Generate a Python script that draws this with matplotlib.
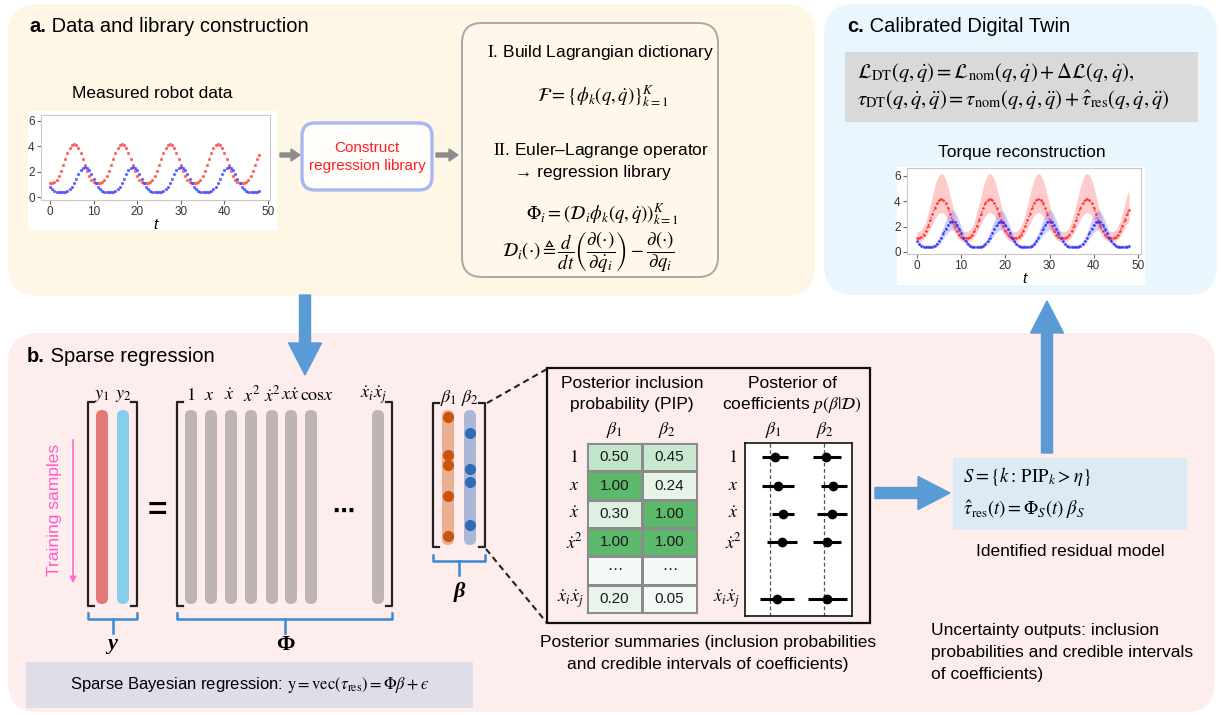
import numpy as np
import matplotlib
matplotlib.use("Agg")
import matplotlib.pyplot as plt
from matplotlib.patches import FancyBboxPatch, Rectangle, FancyArrow
from matplotlib.colors import LinearSegmentedColormap, PowerNorm

plt.rcParams['font.family'] = ['Liberation Sans', 'DejaVu Sans']
plt.rcParams['mathtext.fontset'] = 'stix'

# ---------------- data ----------------
t = np.arange(97) * 0.5

tau_joint1 = [
    1.10, 1.11, 1.19, 1.37, 1.65, 2.05, 2.52, 3.01, 3.48, 3.86, 4.11, 4.20, 4.11, 3.86, 3.48, 3.01, 2.52, 2.05, 1.65, 1.37, 1.19, 1.11,
    1.10, 1.11, 1.19, 1.37, 1.65, 2.05, 2.52, 3.01, 3.48, 3.86, 4.11, 4.20, 4.11, 3.86, 3.48, 3.01, 2.52, 2.05, 1.65, 1.37, 1.19, 1.11,
    1.10, 1.11, 1.19, 1.37, 1.65, 2.05, 2.52, 3.01, 3.48, 3.86, 4.11, 4.20, 4.11, 3.86, 3.48, 3.01, 2.52, 2.05, 1.65, 1.37, 1.19, 1.11,
    1.10, 1.11, 1.19, 1.37, 1.65, 2.05, 2.52, 3.01, 3.48, 3.86, 4.11, 4.20, 4.11, 3.86, 3.48, 3.01, 2.52, 2.05, 1.65, 1.37, 1.19, 1.11,
    1.10, 1.11, 1.19, 1.37, 1.65, 2.05, 2.52, 3.01, 3.30,
]
tau_joint2 = [
    0.84, 0.62, 0.48, 0.42, 0.40, 0.40, 0.40, 0.42, 0.48, 0.62, 0.84, 1.13, 1.47, 1.82, 2.12, 2.33, 2.40, 2.33, 2.12, 1.82, 1.47, 1.13,
    0.84, 0.62, 0.48, 0.42, 0.40, 0.40, 0.40, 0.42, 0.48, 0.62, 0.84, 1.13, 1.47, 1.82, 2.12, 2.33, 2.40, 2.33, 2.12, 1.82, 1.47, 1.13,
    0.84, 0.62, 0.48, 0.42, 0.40, 0.40, 0.40, 0.42, 0.48, 0.62, 0.84, 1.13, 1.47, 1.82, 2.12, 2.33, 2.40, 2.33, 2.12, 1.82, 1.47, 1.13,
    0.84, 0.62, 0.48, 0.42, 0.40, 0.40, 0.40, 0.42, 0.48, 0.62, 0.84, 1.13, 1.47, 1.82, 2.12, 2.33, 2.40, 2.33, 2.12, 1.82, 1.47, 1.13,
    0.84, 0.62, 0.48, 0.42, 0.40, 0.40, 0.40, 0.42, 0.48,
]
# credible band as multiples of the reconstructed torque
band1_lo, band1_hi = 0.74, 1.48
band2_lo, band2_hi = 0.73, 1.38

library_terms = [r'$1$', r'$x$', r'$\dot{x}$', r'$x^2$', r'$\dot{x}^2$',
                 r'$x\dot{x}$', r'$\mathrm{cos}x$', r'$\dot{x}_i\dot{x}_j$']

# positions (fraction along the coefficient vector) of non-zero entries
beta1_support = [0.05, 0.33, 0.41, 0.64, 0.93]
beta2_support = [0.17, 0.44, 0.53, 0.85]

pip_terms = [r'$1$', r'$x$', r'$\dot{x}$', r'$\dot{x}^2$', '', r'$\dot{x}_i\dot{x}_j$']
pip_beta1 = [0.50, 1.00, 0.30, 1.00, np.nan, 0.20]
pip_beta2 = [0.45, 0.24, 1.00, 1.00, np.nan, 0.05]

coef1_mean = [0.09, 0.15, 0.24, 0.22, np.nan, 0.13]
coef1_lo = [-0.15, -0.15, 0.04, -0.06, np.nan, -0.19]
coef1_hi = [0.33, 0.44, 0.44, 0.50, np.nan, 0.44]
coef2_mean = [0.04, 0.17, 0.15, 0.06, np.nan, 0.06]
coef2_lo = [-0.20, -0.06, -0.13, -0.20, np.nan, -0.30]
coef2_hi = [0.31, 0.43, 0.43, 0.31, np.nan, 0.43]

# ---------------- canvas ----------------
W, H = 1221, 715
fig = plt.figure(figsize=(W / 100, H / 100), dpi=100)
fig.patch.set_facecolor('white')
bg = fig.add_axes([0, 0, 1, 1])
bg.set_xlim(0, W)
bg.set_ylim(H, 0)
bg.axis('off')


def px_axes(x0, y0, x1, y1):
    return fig.add_axes([x0 / W, 1 - y1 / H, (x1 - x0) / W, (y1 - y0) / H])


def rbox(x0, y0, x1, y1, r, fc, ec='none', lw=0, z=1):
    bg.add_patch(FancyBboxPatch((x0, y0), x1 - x0, y1 - y0,
                                boxstyle=f"round,pad=0,rounding_size={r}",
                                fc=fc, ec=ec, lw=lw, zorder=z))


def vbar(xc, y0, y1, w, color):
    bg.add_patch(FancyBboxPatch((xc - w / 2, y0), w, y1 - y0,
                                boxstyle=f"round,pad=0,rounding_size={w / 2}",
                                fc=color, ec='none', zorder=3))


def bracket(x0, x1, y0, y1, s=6, lw=1.6, color='#222222'):
    bg.plot([x0 + s, x0, x0, x0 + s], [y0, y0, y1, y1], color=color, lw=lw, zorder=4)
    bg.plot([x1 - s, x1, x1, x1 - s], [y0, y0, y1, y1], color=color, lw=lw, zorder=4)


def brace(x0, x1, y, tip=6, stem=14, color='#3A88D4', lw=1.8):
    bg.plot([x0, x0, x1, x1], [y - tip, y, y, y - tip], color=color, lw=lw, zorder=4)
    xm = (x0 + x1) / 2
    bg.plot([xm, xm], [y, y + stem], color=color, lw=lw, zorder=4)


def title(x, y, tag, rest):
    t0 = bg.text(x, y, tag, fontsize=14.5, fontweight='bold', va='center', ha='left', zorder=5)
    bg.annotate(' ' + rest, xy=(1, 0.5), xycoords=t0, fontsize=14.5, va='center', ha='left', zorder=5)


BLUE_ARROW = '#5B9BD5'

# panel backgrounds
rbox(8, 4, 815, 296, 30, '#FFF7E6')
rbox(824, 4, 1217, 295, 30, '#E9F6FD')
rbox(8, 333, 1215, 712, 30, '#FDEDED')

# ---------------- panel a ----------------
title(29, 26, 'a.', 'Data and library construction')
bg.text(152, 93, 'Measured robot data', fontsize=12.5, ha='center', va='center')
bg.add_patch(Rectangle((28, 111), 249, 119, fc='white', ec='none', zorder=2))


def style_ts(ax):
    ax.set_facecolor('white')
    for s in ax.spines.values():
        s.set_color('#C8C8C8')
        s.set_linewidth(0.8)
    ax.tick_params(axis='both', length=3, width=0.8, color='#666666',
                   labelsize=8.5, labelcolor='#333333', pad=1.5)
    ax.set_xticks([0, 10, 20, 30, 40, 50])
    ax.set_yticks([0, 2, 4, 6])
    ax.set_xlabel('t', fontsize=11, style='italic', labelpad=0)


axa = px_axes(41, 115, 270, 200)
axa.plot(t, tau_joint1, ls='none', marker='o', ms=2.3, mew=0, color='#FF4A4A', alpha=0.85)
axa.plot(t, tau_joint2, ls='none', marker='o', ms=2.3, mew=0, color='#4A4AFF', alpha=0.85)
axa.set_xlim(-2.06, 50.46)
axa.set_ylim(-0.21, 6.47)
style_ts(axa)

bg.add_patch(FancyArrow(280, 155, 20, 0, width=4, head_width=12, head_length=9,
                        length_includes_head=True, color='#8C8C8C', zorder=3))
rbox(302, 123, 432, 190, 13, '#FFFDF9', ec='#A9B6F0', lw=2.4, z=3)
bg.text(367, 148, 'Construct', color='#FF1E1E', fontsize=11, ha='center', va='center', zorder=4)
bg.text(367, 166, 'regression library', color='#FF1E1E', fontsize=11, ha='center', va='center', zorder=4)
bg.add_patch(FancyArrow(436, 155, 22, 0, width=4, head_width=12, head_length=9,
                        length_includes_head=True, color='#8C8C8C', zorder=3))

rbox(462, 23, 718, 277, 20, '#FFF8EA', ec='#A8A8A8', lw=1.4, z=2)
bg.text(601, 52, r'$\mathrm{I}$. Build Lagrangian dictionary', fontsize=12.5, ha='center', va='center', zorder=4)
bg.text(603, 96, r'$\mathcal{F} = \{\phi_k(q,\dot{q})\}_{k=1}^{K}$', fontsize=13.5, ha='center', va='center', zorder=4)
bg.text(601, 150, r'$\mathrm{II}$. Euler–Lagrange operator', fontsize=12.5, ha='center', va='center', zorder=4)
bg.text(593, 172, '\u2192 regression library', fontsize=12.5, ha='center', va='center', zorder=4)
bg.text(603, 214, r'$\Phi_i = \left(\mathcal{D}_i\phi_k(q,\dot{q})\right)_{k=1}^{K}$', fontsize=13.5, ha='center', va='center', zorder=4)
bg.text(588, 252, r'$\mathcal{D}_i(\cdot) \triangleq \dfrac{d}{dt}\left(\dfrac{\partial(\cdot)}{\partial\dot{q}_i}\right) - \dfrac{\partial(\cdot)}{\partial q_i}$',
        fontsize=13.5, ha='center', va='center', zorder=4)

# ---------------- panel c ----------------
title(847, 27, 'c.', 'Calibrated Digital Twin')
bg.add_patch(Rectangle((845, 52), 353, 70, fc='#D9D9D9', ec='none', zorder=2))
bg.text(857, 72, r'$\mathcal{L}_{\mathrm{DT}}(q,\dot{q}) = \mathcal{L}_{\mathrm{nom}}(q,\dot{q}) + \Delta\mathcal{L}(q,\dot{q}),$',
        fontsize=14.8, ha='left', va='center', zorder=4)
bg.text(857, 100, r'$\tau_{\mathrm{DT}}(q,\dot{q},\ddot{q}) = \tau_{\mathrm{nom}}(q,\dot{q},\ddot{q}) + \hat{\tau}_{\mathrm{res}}(q,\dot{q},\ddot{q})$',
        fontsize=14.8, ha='left', va='center', zorder=4)
bg.text(1022, 152, 'Torque reconstruction', fontsize=12.5, ha='center', va='center')
bg.add_patch(Rectangle((897, 167), 248, 118, fc='white', ec='none', zorder=2))

axc = px_axes(907, 168, 1141, 254)
j1 = np.array(tau_joint1)
j2 = np.array(tau_joint2)
axc.fill_between(t, j1 * band1_lo, j1 * band1_hi, color='#FF8A8A', alpha=0.45, lw=0)
axc.fill_between(t, j2 * band2_lo, j2 * band2_hi, color='#8A8AFF', alpha=0.40, lw=0)
axc.plot(t, j1, ls=':', lw=1.0, marker='o', ms=1.8, mew=0, color='#FF3030')
axc.plot(t, j2, ls=':', lw=1.0, marker='o', ms=1.8, mew=0, color='#3030FF')
axc.set_xlim(-2.26, 50.7)
axc.set_ylim(-0.16, 6.63)
style_ts(axc)

# ---------------- panel b ----------------
title(27, 357, 'b.', 'Sparse regression')
bg.add_patch(FancyArrow(305, 295, 0, 80, width=11, head_width=33, head_length=32,
                        length_includes_head=True, color=BLUE_ARROW, zorder=5))

# target vector y
bracket(88, 137, 402, 606)
vbar(102, 410, 604, 12, '#E07A78')
vbar(123, 410, 604, 12, '#88CDEB')
bg.text(102, 396, r'$y_1$', fontsize=13, ha='center', va='center')
bg.text(123, 396, r'$y_2$', fontsize=13, ha='center', va='center')
brace(88, 137, 619)
bg.text(112, 644, 'y', fontsize=16, fontfamily='Liberation Serif', fontweight='bold',
        fontstyle='italic', ha='center', va='center')
bg.text(55, 510, 'Training samples', fontsize=12.5, color='#FF5CC6', rotation=90,
        ha='center', va='center')
bg.annotate('', xy=(73, 586), xytext=(73, 437),
            arrowprops=dict(arrowstyle='-|>', color='#FF6CCB', lw=1.2, mutation_scale=9))
bg.text(157, 512, '=', fontsize=24, fontweight='bold', ha='center', va='center')

# library matrix Phi
phi_x = [191, 211, 231, 251, 272, 291, 311, 378]
label_x = [191, 209, 229, 252, 272, 290, 317, 373]
bracket(177, 392, 402, 606)
for xc in phi_x:
    vbar(xc, 410, 604, 12, '#BFB4B4')
for xl, lab in zip(label_x, library_terms):
    bg.text(xl, 395, lab, fontsize=13, ha='center', va='center')
bg.text(343, 512, '\u22ef', fontsize=16, ha='center', va='center', fontweight='bold')
brace(177, 392, 619)
bg.text(285, 645, '\u03a6', fontsize=16, fontfamily='Liberation Serif', fontweight='bold',
        ha='center', va='center')

# coefficient vector beta
bracket(433, 485, 403, 547)
vbar(448, 410, 545, 12, '#EBAF93')
vbar(470, 410, 545, 12, '#AAB8D5')
for f in beta1_support:
    bg.plot(448, 410 + f * 135, 'o', color='#C9540E', ms=7, zorder=5)
for f in beta2_support:
    bg.plot(470, 410 + f * 135, 'o', color='#2F6DB2', ms=7, zorder=5)
bg.text(448, 398, r'$\beta_1$', fontsize=13, ha='center', va='center')
bg.text(470, 398, r'$\beta_2$', fontsize=13, ha='center', va='center')
brace(433, 485, 561)
bg.text(459, 592, '\u03b2', fontsize=16, fontfamily='Liberation Serif', fontweight='bold',
        fontstyle='italic', ha='center', va='center')

# zoom-in to posterior summaries
bg.plot([487, 547], [403, 369], color='#222222', lw=1.5, ls=(0, (3, 2)), zorder=4)
bg.plot([486, 547], [549, 623], color='#222222', lw=1.5, ls=(0, (3, 2)), zorder=4)
bg.add_patch(Rectangle((547, 368), 323, 255, fc='none', ec='#111111', lw=1.6, zorder=4))

bg.text(632, 383, 'Posterior inclusion', fontsize=12.5, ha='center', va='center')
bg.text(632, 405, 'probability (PIP)', fontsize=12.5, ha='center', va='center')
bg.text(792, 383, 'Posterior of', fontsize=12.5, ha='center', va='center')
bg.text(792, 405, r'coefficients $p(\beta|\mathcal{D})$', fontsize=12.5, ha='center', va='center')

row_h = (613 - 443) / 6
row_y = [443 + row_h * (i + 0.5) for i in range(6)]

# PIP table
tax = px_axes(587, 443, 697, 613)
pip = np.array([pip_beta1, pip_beta2]).T
pip_cmap = LinearSegmentedColormap.from_list('pip', ['#F4FAF6', '#5CB86B'])
tax.pcolormesh(np.nan_to_num(pip, nan=0.0), cmap=pip_cmap,
               norm=PowerNorm(gamma=1.6, vmin=0, vmax=1),
               edgecolors='#8C8C8C', linewidth=0.8)
tax.set_xlim(0, 2)
tax.set_ylim(6, 0)
tax.set_xticks([])
tax.set_yticks([])
for s in tax.spines.values():
    s.set_color('#8C8C8C')
    s.set_linewidth(0.8)
for i in range(pip.shape[0]):
    for j in range(pip.shape[1]):
        txt = '\u22ef' if np.isnan(pip[i, j]) else f'{pip[i, j]:.2f}'
        tax.text(j + 0.5, i + 0.5, txt, ha='center', va='center', fontsize=11, color='#1A1A1A')
bg.text(614, 430, r'$\beta_1$', fontsize=13, ha='center', va='center')
bg.text(667, 430, r'$\beta_2$', fontsize=13, ha='center', va='center')
for yy, lab in zip(row_y, pip_terms):
    if lab:
        if 'i' in lab and 'j' in lab:
            bg.text(584, yy, lab, fontsize=13, ha='right', va='center')
        else:
            bg.text(574, yy, lab, fontsize=13, ha='center', va='center')

# coefficient credible intervals
cax = px_axes(745, 443, 852, 616)
cax.set_facecolor('white')
rows = np.arange(6)
for off, mean, lo, hi in [(0, coef1_mean, coef1_lo, coef1_hi), (1, coef2_mean, coef2_lo, coef2_hi)]:
    cax.axvline(off, color='#555555', ls=(0, (3, 2)), lw=0.9)
    m = np.array(mean)
    l = np.array(lo)
    h = np.array(hi)
    ok = ~np.isnan(m)
    cax.errorbar(off + m[ok], rows[ok], xerr=[m[ok] - l[ok], h[ok] - m[ok]],
                 fmt='o', color='black', ms=6, elinewidth=2.2, capsize=0)
cax.set_xlim(-0.463, 1.52)
cax.set_ylim((616 - 443) / row_h - 0.5, -0.5)
cax.set_xticks([])
cax.set_yticks([])
for s in cax.spines.values():
    s.set_color('#111111')
    s.set_linewidth(1.2)
bg.text(773, 430, r'$\beta_1$', fontsize=13, ha='center', va='center')
bg.text(825, 430, r'$\beta_2$', fontsize=13, ha='center', va='center')
for yy, lab in zip(row_y, pip_terms):
    if lab:
        if 'i' in lab and 'j' in lab:
            bg.text(740, yy, lab, fontsize=13, ha='right', va='center')
        else:
            bg.text(733, yy, lab, fontsize=13, ha='center', va='center')

bg.text(708, 643, 'Posterior summaries (inclusion probabilities', fontsize=12.5, ha='center', va='center')
bg.text(708, 665, 'and credible intervals of coefficients)', fontsize=12.5, ha='center', va='center')

# identified model
bg.add_patch(FancyArrow(875, 493, 75, 0, width=11, head_width=33, head_length=32,
                        length_includes_head=True, color=BLUE_ARROW, zorder=5))
bg.add_patch(Rectangle((953, 458), 234, 72, fc='#DCEAF6', ec='none', zorder=2))
bg.text(963, 477, r'$S = \{k\mathrm{:}\,\mathrm{PIP}_k > \eta\}$', fontsize=13.5, ha='left', va='center', zorder=4)
bg.text(963, 510, r'$\hat{\tau}_{\mathrm{res}}(t) = \Phi_S(t)\;\beta_S$', fontsize=13.5, ha='left', va='center', zorder=4)
bg.text(1070, 552, 'Identified residual model', fontsize=12.5, ha='center', va='center')
bg.add_patch(FancyArrow(1047, 453, 0, -152, width=11, head_width=33, head_length=32,
                        length_includes_head=True, color=BLUE_ARROW, zorder=5))

for k, line in enumerate(['Uncertainty outputs: inclusion',
                          'probabilities and credible intervals',
                          'of coefficients)']):
    bg.text(931, 630 + 22.5 * k, line, fontsize=12.5, ha='left', va='center')

bg.add_patch(Rectangle((26, 662), 447, 46, fc='#DEDDE8', ec='none', zorder=2))
bg.text(250, 685, 'Sparse Bayesian regression: $\\mathrm{y} = \\mathrm{vec}(\\tau_{\\mathrm{res}}) = \\Phi\\beta + \u03f5$',
        fontsize=12, ha='center', va='center', zorder=4)

fig.savefig('out.png', dpi=100, facecolor='white')
